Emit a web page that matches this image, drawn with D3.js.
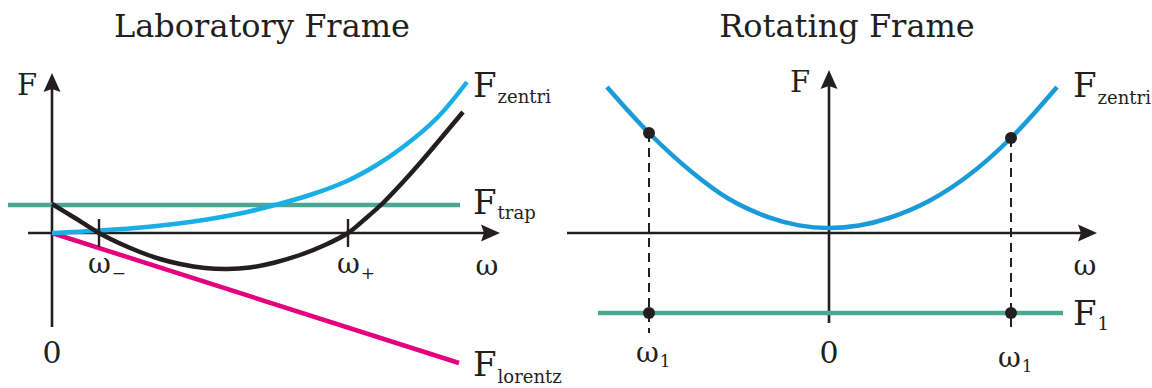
<!DOCTYPE html>
<html>
<head>
<meta charset="utf-8">
<script src="https://cdn.jsdelivr.net/npm/d3@7"></script>
<style>
  html, body { margin: 0; padding: 0; background: #fff; }
  svg { display: block; }
  text { font-family: 'DejaVu Serif', serif; fill: #231f20; }
</style>
</head>
<body>
<svg id="chart" width="1152" height="388"></svg>
<script>
// ---- Laboratory frame: forces vs rotation frequency ω ----
const zentriLabW = [0, 12, 23.75, 34.5, 47, 55.75, 64.5, 73.75, 80.75, 87.75, 96.25, 103.75];
const zentriLabF = [0, 0.625, 1.5, 2.75, 4.875, 7, 9.5, 13, 16.75, 21.5, 28.75, 37.75];

const netLabW = [0, 5.75, 11.75, 17, 22, 27, 32, 38.25, 43.75, 49.5, 55.75, 62, 68.25, 74, 78.25, 82.75, 87.75, 92, 96.25, 102.75];
const netLabF = [7.25, 3.75, 0, -2.625, -4.75, -6.5, -7.75, -8.75, -9, -8.625, -7.375, -5.5, -3, 0, 3.5, 7.5, 12.75, 17.5, 22.5, 30.25];

const trapLabW = [-11, 102];
const trapLabF = [7, 7];

const lorentzLabW = [0, 101.75];
const lorentzLabF = [0, -32.5];

const rootsLabW = [11.75, 74];
const rootsLabSub = ["\u2212", "+"];

// ---- Rotating frame ----
const zentriRotW = [-55.5, -45, -34, -25, -15, -7.5, 0, 7.5, 15, 25, 35, 45.5, 57];
const zentriRotF = [36.5, 25, 15, 8.5, 3.9, 1.9, 1.25, 1.875, 3.75, 8, 14.5, 23.75, 36.5];

const f1RotW = [-57.75, 58.5];
const f1RotF = [-20, -20];

const omega1W = [-45, 45.5];
const omega1CurveF = [25, 23.75];

const titles = ["Laboratory Frame", "Rotating Frame"];

const COL = {
  ink: "#231f20",
  cyan: "#1aaee6",
  blue: "#1b9ad8",
  teal: "#4ca692",
  magenta: "#e5007e"
};

const svg = d3.select("#chart");

// Scales: 4 px per unit on both axes
const xL = d3.scaleLinear().domain([0, 100]).range([52, 452]);
const yL = d3.scaleLinear().domain([0, 40]).range([233, 73]);
const xR = d3.scaleLinear().domain([0, 100]).range([829, 1229]);
const yR = d3.scaleLinear().domain([0, 40]).range([233, 73]);

function arrowHead(g, x, y, dir) {
  // dir: "up" or "right"; tip at (x,y)
  const L = 19, H = 8.5, n = 3;
  let p;
  if (dir === "up") {
    p = `M${x},${y} L${x + H},${y + L} L${x},${y + L - n} L${x - H},${y + L} Z`;
  } else {
    p = `M${x},${y} L${x - L},${y - H} L${x - L + n},${y} L${x - L},${y + H} Z`;
  }
  g.append("path").attr("d", p).attr("fill", COL.ink);
}

function drawAxes(g, x, y, w0, w1, f0, f1) {
  const tipOffset = 12;
  g.append("line")
    .attr("x1", x(w0)).attr("x2", x(w1) - tipOffset)
    .attr("y1", y(0)).attr("y2", y(0))
    .attr("stroke", COL.ink).attr("stroke-width", 2.6);
  arrowHead(g, x(w1), y(0), "right");
  g.append("line")
    .attr("x1", x(0)).attr("x2", x(0))
    .attr("y1", y(f0)).attr("y2", y(f1) + tipOffset)
    .attr("stroke", COL.ink).attr("stroke-width", 2.6);
  arrowHead(g, x(0), y(f1), "up");
}

function series(ws, fs) { return ws.map((w, i) => [w, fs[i]]); }

function label(g, x, y, main, sub, size, subSize, subDy, subDx) {
  const t = g.append("text").attr("x", x).attr("y", y).attr("font-size", size);
  t.append("tspan").text(main);
  if (sub) {
    t.append("tspan").attr("dx", subDx || 1).attr("dy", subDy).attr("font-size", subSize).text(sub);
  }
  return t;
}

const SW = 4.5;

// ================= Left panel =================
const gl = svg.append("g");
drawAxes(gl, xL, yL, -6, 112, -23.5, 40);

const lineL = d3.line().x(d => xL(d[0])).y(d => yL(d[1]));
const curveL = d3.line().x(d => xL(d[0])).y(d => yL(d[1])).curve(d3.curveCatmullRom.alpha(0.5));

gl.append("path").datum(series(trapLabW, trapLabF)).attr("d", lineL)
  .attr("fill", "none").attr("stroke", COL.teal).attr("stroke-width", SW);
gl.append("path").datum(series(lorentzLabW, lorentzLabF)).attr("d", lineL)
  .attr("fill", "none").attr("stroke", COL.magenta).attr("stroke-width", SW);
gl.append("path").datum(series(zentriLabW, zentriLabF)).attr("d", curveL)
  .attr("fill", "none").attr("stroke", COL.cyan).attr("stroke-width", SW);
gl.append("path").datum(series(netLabW, netLabF)).attr("d", curveL)
  .attr("fill", "none").attr("stroke", COL.ink).attr("stroke-width", SW);

// root ticks ω− and ω+
gl.selectAll("line.root").data(rootsLabW).join("line").attr("class", "root")
  .attr("x1", d => xL(d)).attr("x2", d => xL(d))
  .attr("y1", yL(3.5)).attr("y2", yL(-3.5))
  .attr("stroke", COL.ink).attr("stroke-width", 2.4);
rootsLabW.forEach((w, i) => {
  label(gl, xL(w) - 11, 273, "\u03c9", rootsLabSub[i], 28, 17, 6, 0);
});

// labels
label(gl, 17, 95, "F", null, 29);
gl.append("text").attr("x", xL(0)).attr("y", 363).attr("text-anchor", "middle")
  .attr("font-size", 30).text("0");
gl.append("text").attr("x", 487).attr("y", 275).attr("text-anchor", "middle")
  .attr("font-size", 28).text("\u03c9");
label(gl, 473, 97, "F", "zentri", 34, 18, 6, 1);
label(gl, 473, 214, "F", "trap", 34, 18, 5, 1);
label(gl, 473, 376, "F", "lorentz", 34, 18, 7, 1);

gl.append("text").attr("x", 262).attr("y", 37).attr("text-anchor", "middle")
  .attr("font-size", 32).text(titles[0]);

// ================= Right panel =================
const gr = svg.append("g");
drawAxes(gr, xR, yR, -65.5, 67, -22.5, 40.75);

const lineR = d3.line().x(d => xR(d[0])).y(d => yR(d[1]));
const curveR = d3.line().x(d => xR(d[0])).y(d => yR(d[1])).curve(d3.curveCatmullRom.alpha(0.5));

gr.append("path").datum(series(f1RotW, f1RotF)).attr("d", lineR)
  .attr("fill", "none").attr("stroke", COL.teal).attr("stroke-width", SW);
gr.append("path").datum(series(zentriRotW, zentriRotF)).attr("d", curveR)
  .attr("fill", "none").attr("stroke", COL.blue).attr("stroke-width", SW);

// dashed drop lines at ±ω1
gr.selectAll("line.drop").data(omega1W).join("line").attr("class", "drop")
  .attr("x1", d => xR(d)).attr("x2", d => xR(d))
  .attr("y1", (d, i) => yR(omega1CurveF[i])).attr("y2", yR(-25))
  .attr("stroke", COL.ink).attr("stroke-width", 2).attr("stroke-dasharray", "9,6");

// dots on the curve and on F1
const dots = omega1W.flatMap((w, i) => [[w, omega1CurveF[i]], [w, f1RotF[0]]]);
gr.selectAll("circle").data(dots).join("circle")
  .attr("cx", d => xR(d[0])).attr("cy", d => yR(d[1])).attr("r", 6)
  .attr("fill", COL.ink);

// labels
label(gr, 790, 92, "F", null, 29);
gr.append("text").attr("x", xR(0)).attr("y", 363).attr("text-anchor", "middle")
  .attr("font-size", 30).text("0");
gr.append("text").attr("x", 1085).attr("y", 275).attr("text-anchor", "middle")
  .attr("font-size", 28).text("\u03c9");
omega1W.forEach((w, i) => {
  label(gr, xR(w) - 13, i === 0 ? 362 : 367, "\u03c9", "1", 28, 17, 5, 0);
});
label(gr, 1073, 97, "F", "zentri", 34, 18, 7, 1);
label(gr, 1073, 325, "F", "1", 34, 18, 5, 1);

gr.append("text").attr("x", 847).attr("y", 37).attr("text-anchor", "middle")
  .attr("font-size", 32).text(titles[1]);
</script>
</body>
</html>
